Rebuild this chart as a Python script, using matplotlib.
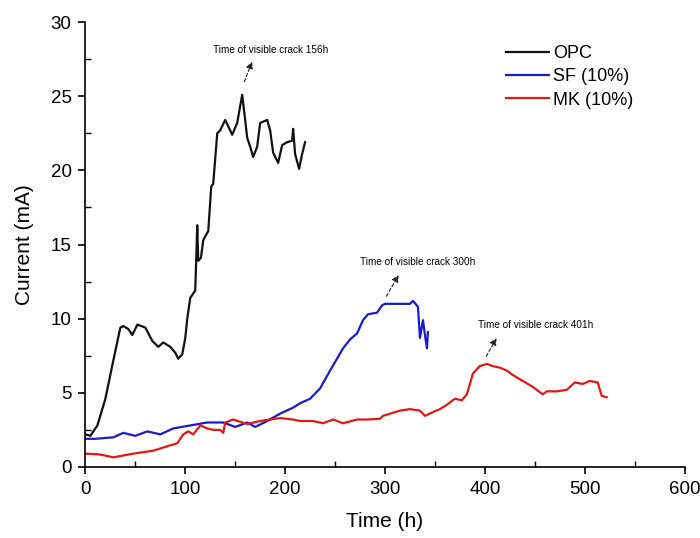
import matplotlib
matplotlib.use("Agg")
import matplotlib.pyplot as plt
from matplotlib.ticker import MultipleLocator

plt.rcParams['font.family'] = ['Liberation Sans', 'DejaVu Sans']

# OPC (black)
opc_t = [0, 5, 12, 20, 28, 35, 38, 43, 47, 52, 60, 67, 73, 78, 85, 90, 93, 97, 100, 102,
         105, 110, 112, 113, 115.7, 118, 123, 126, 128, 132, 135, 140, 147, 152, 157,
         160, 162, 165, 168, 172, 175, 182, 185, 188, 193, 197, 202, 207, 208, 210,
         214, 217, 220]
opc_i = [2.2, 2.1, 2.8, 4.6, 7.2, 9.4, 9.5, 9.3, 8.9, 9.6, 9.4, 8.5, 8.1, 8.4, 8.1, 7.7, 7.3,
         7.6, 8.7, 10.0, 11.4, 11.9, 16.3, 13.9, 14.1, 15.3, 15.9, 18.9, 19.1, 22.5,
         22.7, 23.4, 22.4, 23.2, 25.1, 23.4, 22.2, 21.6, 20.9, 21.6, 23.2, 23.4, 22.7,
         21.2, 20.5, 21.7, 21.9, 22.0, 22.8, 21.1, 20.1, 21.1, 21.9]

# SF (10%) (blue)
sf_t = [0, 10, 28, 38, 50, 62, 75, 88, 105, 122, 138, 150, 162, 170, 182, 195, 208,
        215, 225, 235, 245, 258, 265, 272, 278, 283, 292, 297, 300, 310, 325, 328,
        333, 335, 338, 340, 342, 343]
sf_i = [1.9, 1.9, 2.0, 2.3, 2.1, 2.4, 2.2, 2.6, 2.8, 3.0, 3.0, 2.7, 3.0, 2.7, 3.1, 3.6,
        4.0, 4.3, 4.6, 5.3, 6.5, 8.0, 8.6, 9.0, 9.9, 10.3, 10.4, 10.9, 11.0, 11.0,
        11.0, 11.2, 10.8, 8.7, 9.9, 8.9, 8.0, 9.1]

# MK (10%) (red)
mk_t = [0, 14, 28, 48, 68, 82, 92, 98, 103, 108, 115, 122, 128, 135, 138, 140, 148,
        162, 175, 195, 208, 215, 228, 238, 248, 258, 272, 282, 295, 298, 315, 325,
        335, 340, 348, 355, 362, 370, 377, 382, 388, 395, 402, 408, 415, 422, 428,
        438, 448, 458, 462, 472, 482, 490, 498, 505, 513, 517, 522]
mk_i = [0.9, 0.85, 0.65, 0.9, 1.1, 1.4, 1.6, 2.2, 2.4, 2.2, 2.8, 2.6, 2.5, 2.5, 2.3,
        3.0, 3.2, 2.9, 3.1, 3.3, 3.2, 3.1, 3.1, 2.95, 3.2, 2.95, 3.2, 3.2, 3.25, 3.45,
        3.8, 3.9, 3.8, 3.45, 3.7, 3.9, 4.2, 4.6, 4.5, 4.9, 6.3, 6.8, 6.95, 6.8, 6.7,
        6.5, 6.2, 5.8, 5.4, 4.9, 5.1, 5.1, 5.2, 5.7, 5.6, 5.8, 5.7, 4.8, 4.7]

series_labels = ['OPC', 'SF (10%)', 'MK (10%)']
series_colors = ['#111111', '#1a1ac8', '#e01818']

notes = ['Time of visible crack 156h', 'Time of visible crack 300h', 'Time of visible crack 401h']
note_text_xy = [(185, 28.1), (333, 13.8), (451, 9.6)]
note_arrow_from = [(158, 25.8), (300, 11.35), (400, 7.3)]
note_arrow_to = [(168, 27.5), (315, 13.1), (413, 8.85)]

fig = plt.figure(figsize=(7.0, 5.38), dpi=100)
ax = fig.add_axes([0.122, 0.132, 0.856, 0.827])

for (t, i), lab, col in zip([(opc_t, opc_i), (sf_t, sf_i), (mk_t, mk_i)], series_labels, series_colors):
    ax.plot(t, i, color=col, lw=1.6, label=lab)

for txt, txy, a0, a1 in zip(notes, note_text_xy, note_arrow_from, note_arrow_to):
    ax.text(txy[0], txy[1], txt, fontsize=7.2, ha='center', va='center')
    ax.annotate('', xy=a1, xytext=a0,
                arrowprops=dict(arrowstyle='-|>', color='#222222', lw=0.8,
                                linestyle=(0, (3, 2)), mutation_scale=10))

ax.set_xlim(0, 600)
ax.set_ylim(0, 30)
ax.xaxis.set_major_locator(MultipleLocator(100))
ax.xaxis.set_minor_locator(MultipleLocator(50))
ax.yaxis.set_major_locator(MultipleLocator(5))
ax.yaxis.set_minor_locator(MultipleLocator(2.5))
ax.tick_params(which='major', direction='out', length=5, width=1.2, labelsize=13.5, pad=5)
ax.tick_params(which='minor', direction='in', length=4, width=1.0)
for s in ['top', 'right']:
    ax.spines[s].set_visible(False)
for s in ['left', 'bottom']:
    ax.spines[s].set_linewidth(1.2)

ax.set_xlabel('Time (h)', fontsize=15, labelpad=10)
ax.set_ylabel('Current (mA)', fontsize=15, labelpad=12)

ax.legend(loc='upper left', bbox_to_anchor=(0.675, 0.985), frameon=False, fontsize=13,
          handlelength=2.4, handletextpad=0.2, labelspacing=0.35)

fig.savefig('out.png', dpi=100)
